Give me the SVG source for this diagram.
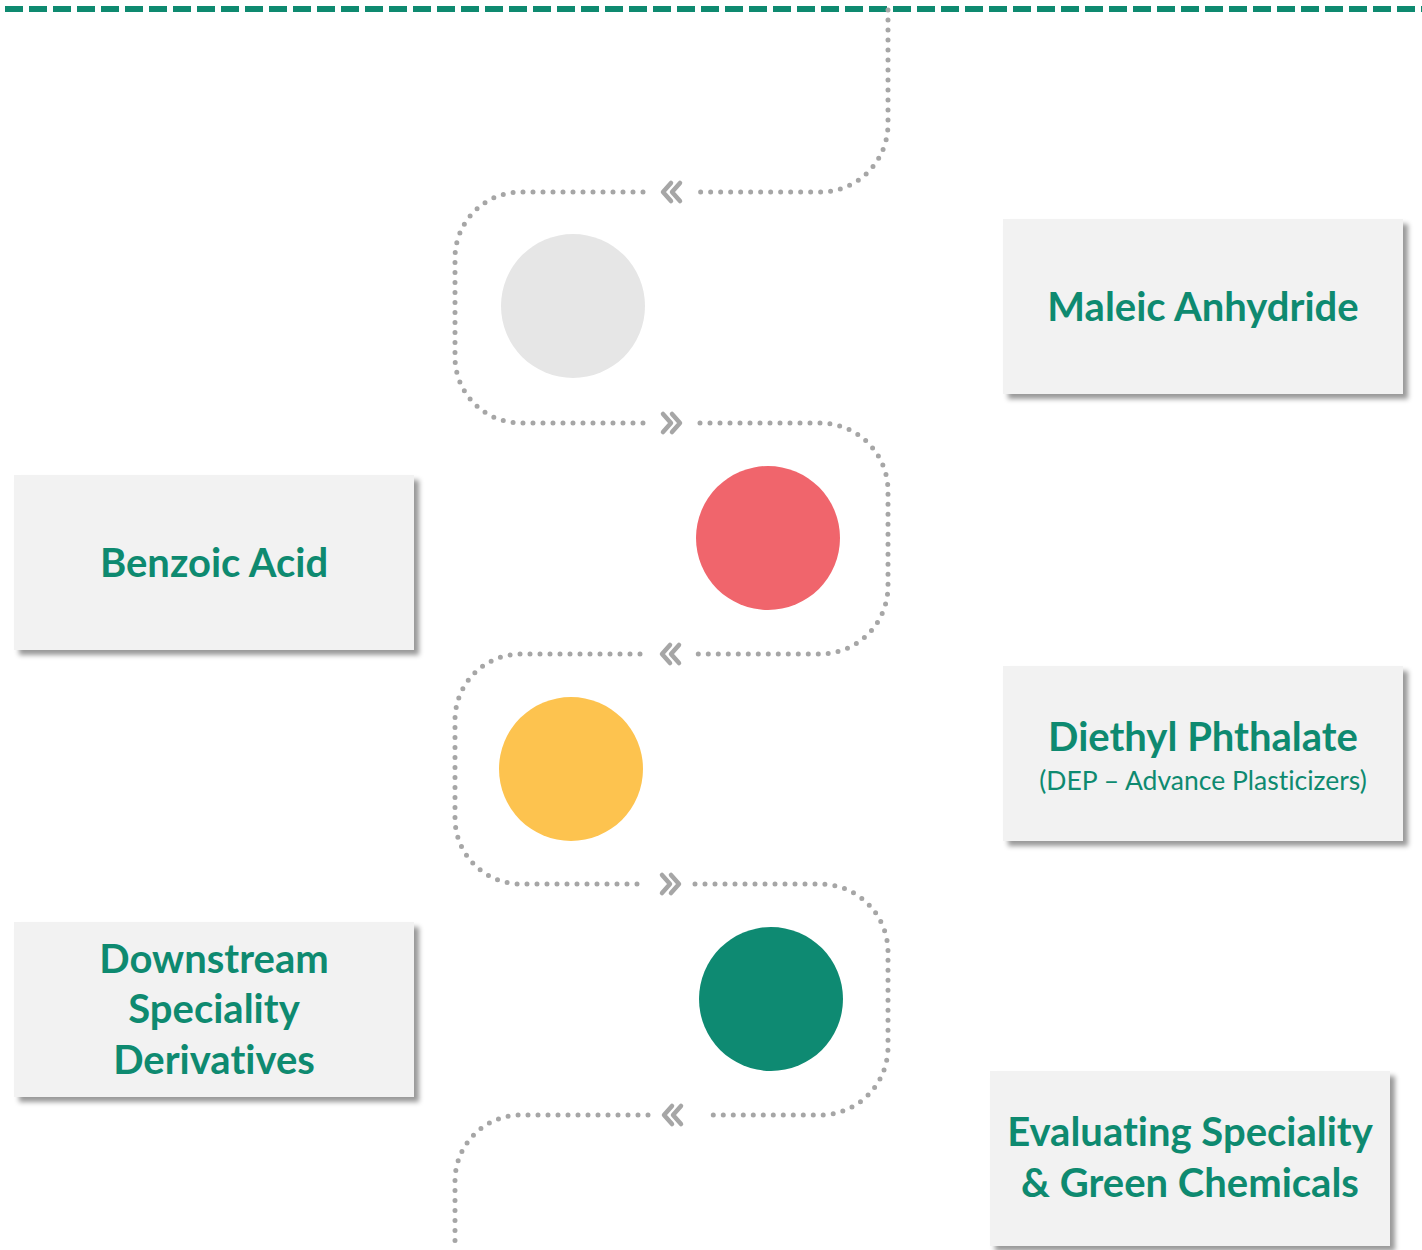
<svg xmlns="http://www.w3.org/2000/svg" width="1422" height="1250" viewBox="0 0 1422 1250">
<defs>
<filter id="sh" x="-10%" y="-10%" width="125%" height="130%">
<feDropShadow dx="5" dy="5" stdDeviation="2.5" flood-color="#000" flood-opacity="0.4"/>
</filter>
<style>
.box{fill:#f2f2f2;filter:url(#sh)}
.t{font-family:Lato,"Noto Sans","Liberation Sans",sans-serif;font-weight:700;fill:#0e8a70;text-anchor:middle;font-variant-ligatures:none;font-size:40px}
.s{font-family:Lato,"Noto Sans","Liberation Sans",sans-serif;font-weight:400;fill:#0e8a70;text-anchor:middle;font-variant-ligatures:none;font-size:26.5px}
.dot{fill:none;stroke:#a6a6a6;stroke-width:5;stroke-linecap:round;stroke-dasharray:0 10}
.chev{fill:none;stroke:#a6a6a6;stroke-width:4.5;stroke-linecap:round;stroke-linejoin:round}
</style>
</defs>
<rect width="1422" height="1250" fill="#fff"/>
<line x1="5" y1="9" x2="1422" y2="9" stroke="#0e8a70" stroke-width="6" stroke-dasharray="18 6"/>
<g id="connectors">
<path class="dot" d="M888,10 V124 A68,68 0 0 1 820,192 H700"/>
<path class="dot" d="M643,192 H521 A66,66 0 0 0 455,258 V357 A66,66 0 0 0 521,423 H645"/>
<path class="dot" d="M700,423 H820 A68,68 0 0 1 888,491 V586 A68,68 0 0 1 820,654 H697"/>
<path class="dot" d="M640,654 H521 A66,66 0 0 0 455,720 V818 A66,66 0 0 0 521,884 H637"/>
<path class="dot" d="M695,884 H820 A68,68 0 0 1 888,952 V1047 A68,68 0 0 1 820,1115 H705"/>
<path class="dot" d="M648,1115 H521 A66,66 0 0 0 455,1181 V1250"/>
<polyline class="chev" points="671,183 663,192 671,201"/>
<polyline class="chev" points="680,183 672,192 680,201"/>
<polyline class="chev" points="663,414 671,423 663,432"/>
<polyline class="chev" points="672,414 680,423 672,432"/>
<polyline class="chev" points="670,645 662,654 670,663"/>
<polyline class="chev" points="679,645 671,654 679,663"/>
<polyline class="chev" points="662,875 670,884 662,893"/>
<polyline class="chev" points="671,875 679,884 671,893"/>
<polyline class="chev" points="672,1106 664,1115 672,1124"/>
<polyline class="chev" points="681,1106 673,1115 681,1124"/>
</g>
<g id="circle-gray"><circle cx="573" cy="306" r="72" fill="#e6e6e6"/></g>
<g id="circle-red"><circle cx="768" cy="538" r="72" fill="#f0656c"/></g>
<g id="circle-yellow"><circle cx="571" cy="769" r="72" fill="#fdc34f"/></g>
<g id="circle-green"><circle cx="771" cy="999" r="72" fill="#0e8a72"/></g>
<g id="maleic">
<rect class="box" x="1003" y="219" width="400" height="175"/>
<text class="t" x="1203" y="321">Maleic Anhydride</text>
</g>
<g id="benzoic">
<rect class="box" x="14" y="475" width="400" height="175"/>
<text class="t" x="214" y="577">Benzoic Acid</text>
</g>
<g id="diethyl">
<rect class="box" x="1003" y="666" width="400" height="175"/>
<text class="t" x="1203" y="751">Diethyl Phthalate</text>
<text class="s" x="1203" y="790">(DEP – Advance Plasticizers)</text>
</g>
<g id="downstream">
<rect class="box" x="14" y="922" width="400" height="175"/>
<text class="t" x="214" y="973">Downstream</text>
<text class="t" x="214" y="1023">Speciality</text>
<text class="t" x="214" y="1074">Derivatives</text>
</g>
<g id="evaluating">
<rect class="box" x="990" y="1071" width="400" height="175"/>
<text class="t" x="1190" y="1146">Evaluating Speciality</text>
<text class="t" x="1190" y="1197">&amp; Green Chemicals</text>
</g>
</svg>
